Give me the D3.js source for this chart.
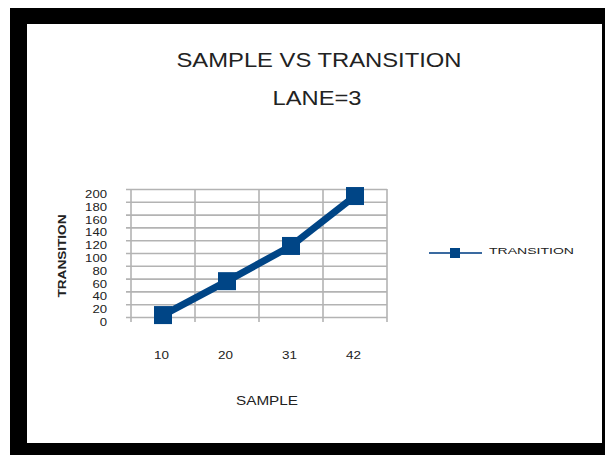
<!DOCTYPE html>
<html><head><meta charset="utf-8">
<script src="https://cdn.jsdelivr.net/npm/d3@7"></script>
<style>
html,body{margin:0;padding:0;background:#fff;}
svg{display:block;}
text{font-family:"Liberation Sans", Arial, sans-serif;}
</style></head>
<body>
<svg id="c" width="605" height="455"></svg>
<script>
const categories = ["10", "20", "31", "42"];
const transition = [3, 56, 111, 189];
const yTicks = [0, 20, 40, 60, 80, 100, 120, 140, 160, 180, 200];
const titleLines = ["SAMPLE VS TRANSITION", "LANE=3"];
const seriesName = "TRANSITION";

const svg = d3.select("#c");
// frame
svg.append("rect").attr("x", 10).attr("y", 8).attr("width", 595).attr("height", 447).attr("fill", "#000");
svg.append("rect").attr("x", 27).attr("y", 24).attr("width", 575).attr("height", 419).attr("fill", "#fff");

const plot = {left: 131, right: 387, top: 189, bottom: 317};
const x = d3.scaleBand().domain(categories).range([plot.left, plot.right]).padding(0);
const y = d3.scaleLinear().domain([0, 200]).range([plot.bottom, plot.top]);
const grid = "#b3b3b3";
const blue = "#004586";

// horizontal grid + y axis
const ya = svg.append("g").attr("transform", `translate(${plot.left},0)`)
  .call(d3.axisLeft(y).tickValues(yTicks).tickSize(0).tickPadding(0));
ya.select(".domain").remove();
ya.selectAll(".tick line").attr("x1", -5).attr("x2", plot.right - plot.left)
  .attr("stroke", grid).attr("stroke-width", 1.6);
ya.selectAll(".tick text").attr("x", -24).attr("dy", "0.85em")
  .attr("fill", "#222").attr("font-size", 10).attr("text-anchor", "end")
  .attr("textLength", d => String(d).length * 7.3).attr("lengthAdjust", "spacingAndGlyphs");

// vertical grid at category boundaries
const bounds = categories.map(c => x(c)).concat([plot.right]);
svg.append("g").selectAll("line").data(bounds).join("line")
  .attr("x1", d => d).attr("x2", d => d)
  .attr("y1", plot.top).attr("y2", plot.bottom + 5)
  .attr("stroke", grid).attr("stroke-width", 1.6);

// x labels
const xa = svg.append("g").attr("transform", `translate(0,${plot.bottom})`)
  .call(d3.axisBottom(x).tickSize(0).tickPadding(0));
xa.select(".domain").remove();
xa.selectAll(".tick text").attr("y", 38).attr("dy", "0.35em").attr("x", -1.5)
  .attr("fill", "#222").attr("font-size", 10.5)
  .attr("textLength", 15).attr("lengthAdjust", "spacingAndGlyphs");

// line and markers
const cx = c => x(c) + x.bandwidth() / 2;
const pts = categories.map((c, i) => [cx(c), y(transition[i])]);
svg.append("path").attr("d", d3.line()(pts)).attr("fill", "none")
  .attr("stroke", blue).attr("stroke-width", 7).attr("stroke-linejoin", "round");
svg.append("g").selectAll("rect").data(pts).join("rect")
  .attr("x", d => d[0] - 9).attr("y", d => d[1] - 9).attr("width", 18).attr("height", 18)
  .attr("fill", blue);

// titles
svg.append("text").attr("x", 319).attr("y", 67).attr("text-anchor", "middle")
  .attr("font-size", 21).attr("fill", "#222")
  .attr("textLength", 285).attr("lengthAdjust", "spacingAndGlyphs").text(titleLines[0]);
svg.append("text").attr("x", 317).attr("y", 105).attr("text-anchor", "middle")
  .attr("font-size", 21).attr("fill", "#222")
  .attr("textLength", 89).attr("lengthAdjust", "spacingAndGlyphs").text(titleLines[1]);

// axis titles
svg.append("text").attr("x", 267).attr("y", 405).attr("text-anchor", "middle")
  .attr("font-size", 12).attr("fill", "#222")
  .attr("textLength", 62).attr("lengthAdjust", "spacingAndGlyphs").text("SAMPLE");
svg.append("text").attr("transform", "translate(66,256) rotate(-90)").attr("text-anchor", "middle")
  .attr("font-size", 11).attr("font-weight", "bold").attr("fill", "#222")
  .attr("textLength", 83).attr("lengthAdjust", "spacingAndGlyphs").text("TRANSITION");

// legend
const lg = svg.append("g");
lg.append("line").attr("x1", 429).attr("x2", 482).attr("y1", 253).attr("y2", 253)
  .attr("stroke", "#3a6aa0").attr("stroke-width", 2);
lg.append("rect").attr("x", 450).attr("y", 248).attr("width", 10).attr("height", 10).attr("fill", blue);
lg.append("text").attr("x", 489).attr("y", 254).attr("font-size", 9).attr("fill", "#222")
  .attr("textLength", 85).attr("lengthAdjust", "spacingAndGlyphs").text(seriesName);
</script>
</body></html>
